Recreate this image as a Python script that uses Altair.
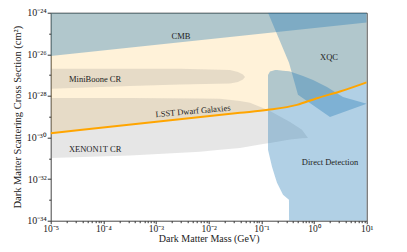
import altair as alt
import pandas as pd

# ---- values (log10 of mass in GeV, log10 of cross section in cm^2)
cmb_logm = [-5.0, 1.0]
cmb_low = [-26.08, -24.47]
cmb_high = [-24.0, -24.0]

lsst_logm = [-5.0, -1.406, -0.874, -0.324, 0.056, 0.493, 1.0]
lsst_sigma = [-29.79, -28.815, -28.67, -28.43, -28.11, -27.79, -27.35]

mini_logm = [-5.0, -3.494, -2.545, -1.596, -1.444, -1.349, -1.311]
mini_low = [-27.66, -27.52, -27.45, -27.40, -27.33, -27.21, -27.09]
mini_high = [-26.70, -26.70, -26.70, -26.75, -26.85, -26.97, -27.09]

xenon_logm = [-5.0, -3.494, -2.165, -1.786, -1.406, -1.216, -0.969, -0.836, -0.456, -0.229, -0.115]
xenon_low = [-30.98, -30.86, -30.69, -30.59, -30.50, -30.42, -30.31, -30.26, -30.10, -30.04, -30.02]
xenon_high = [-28.10, -28.10, -28.12, -28.14, -28.24, -28.33, -28.58, -28.72, -29.25, -29.63, -30.02]

xqc_logm = [-0.874, -0.475, -0.305, 0.303, 1.0]
xqc_low = [-24.0, -26.41, -27.95, -29.01, -28.38]
xqc_high = [-24.0, -24.0, -24.0, -24.0, -24.0]

dd_logm = [-0.874, -0.836, -0.798, -0.741, -0.703, -0.589, -0.476, -0.474, -0.456, -0.209, -0.019, 0.246, 0.550, 1.0]
dd_low = [-30.59, -31.0, -31.41, -31.87, -32.18, -32.75, -32.99, -34.0, -34.0, -34.0, -34.0, -34.0, -34.0, -34.0]
dd_high = [-26.99, -26.83, -26.80, -26.75, -26.76, -26.79, -26.82, -26.82, -26.83, -27.04, -27.23, -27.57, -28.05, -28.38]

label_text = ["CMB", "XQC", "MiniBoone CR", "LSST Dwarf Galaxies", "XENON1T CR", "Direct Detection"]
label_logm = [-2.526, 0.284, -4.157, -2.298, -4.157, 0.303]
label_logs = [-25.12, -26.13, -27.18, -28.72, -30.55, -31.17]
label_angle = [0, 0, 0, 355, 0, 0]

x_major = [1e-5, 1e-4, 1e-3, 1e-2, 1e-1, 1e0, 1e1]
x_major_text = ["10⁻⁵", "10⁻⁴", "10⁻³", "10⁻²", "10⁻¹", "10⁰", "10¹"]
y_major = [1e-34, 1e-32, 1e-30, 1e-28, 1e-26, 1e-24]
y_major_text = ["10⁻³⁴", "10⁻³²", "10⁻³⁰", "10⁻²⁸", "10⁻²⁶", "10⁻²⁴"]
y_minor = [1e-33, 1e-31, 1e-29, 1e-27, 1e-25]

FONT = "Liberation Serif"
BLUE = "#1f77b4"


def region(logm, low, high):
    return pd.DataFrame({
        "m": [10 ** v for v in logm],
        "lo": [10 ** v for v in low],
        "hi": [10 ** v for v in high],
    })


x_minor = []
for e in range(-5, 1):
    for k in range(2, 10):
        x_minor.append(float(f"{k}e{e}"))


def label_expr(vals, texts):
    s = "''"
    for v, t in reversed(list(zip(vals, texts))):
        s = f"datum.value == {repr(v)} ? '{t}' : {s}"
    return s


xscale = alt.Scale(type="log", domain=[1e-5, 10], nice=False)
yscale = alt.Scale(type="log", domain=[1e-34, 1e-24], nice=False)

x_axis = alt.Axis(
    orient="bottom",
    values=x_major,
    labelExpr=label_expr(x_major, x_major_text),
    labelOverlap=False, labelFlush=False,
    tickSize=3, tickColor="#333", domain=False, grid=False,
    labelFont=FONT, labelFontSize=9.5, labelColor="#222", labelPadding=0,
    title="Dark Matter Mass (GeV)", titleFont=FONT, titleFontSize=10,
    titleFontWeight="normal", titleColor="#222",
    titleX=158, titleY=18, titleAlign="center", titleBaseline="middle",
)
y_axis = alt.Axis(
    orient="left",
    values=y_major,
    labelExpr=label_expr(y_major, y_major_text),
    labelOverlap=False, labelFlush=False,
    tickSize=3.5, tickColor="#333", domain=False, grid=False,
    labelFont=FONT, labelFontSize=10, labelColor="#222", labelPadding=1,
    title="Dark Matter Scattering Cross Section (cm²)", titleFont=FONT, titleFontSize=10.5,
    titleFontWeight="normal", titleColor="#222",
    titleX=-33, titleY=104, titleAngle=270, titleAlign="center", titleBaseline="middle",
)
x_minor_axis = alt.Axis(orient="bottom", values=x_minor, labels=False, tickSize=2,
                        tickColor="#333", domain=False, grid=False, title=None)
y_minor_axis = alt.Axis(orient="left", values=y_minor, labels=False, tickSize=2,
                        tickColor="#333", domain=False, grid=False, title=None)


def area_layer(df, color, opacity, axes=False, interp="linear"):
    return alt.Chart(df).mark_area(color=color, opacity=opacity, clip=True,
                                   interpolate=interp).encode(
        x=alt.X("m:Q", scale=xscale, axis=x_axis if axes else None),
        y=alt.Y("lo:Q", scale=yscale, axis=y_axis if axes else None),
        y2="hi:Q",
    )


lsst_df = pd.DataFrame({
    "m": [10 ** v for v in lsst_logm],
    "lo": [10 ** v for v in lsst_sigma],
    "hi": [1e-24] * len(lsst_logm),
})

lsst = area_layer(lsst_df, "orange", 0.15, axes=True, interp="monotone")
mini = area_layer(region(mini_logm, mini_low, mini_high), "gray", 0.2)
xenon = area_layer(region(xenon_logm, xenon_low, xenon_high), "gray", 0.2)
cmb = area_layer(region(cmb_logm, cmb_low, cmb_high), BLUE, 0.35)
xqc = area_layer(region(xqc_logm, xqc_low, xqc_high), BLUE, 0.35)
dd = area_layer(region(dd_logm, dd_low, dd_high), BLUE, 0.35)

line = alt.Chart(lsst_df).mark_line(color="orange", strokeWidth=2, clip=True,
                                    interpolate="monotone").encode(
    x=alt.X("m:Q", scale=xscale, axis=x_minor_axis),
    y=alt.Y("lo:Q", scale=yscale, axis=y_minor_axis),
)

lab_df = pd.DataFrame({
    "t": label_text,
    "m": [10 ** v for v in label_logm],
    "s": [10 ** v for v in label_logs],
    "a": label_angle,
})
labels = alt.Chart(lab_df).mark_text(font=FONT, fontSize=8.5, color="#222", align="center",
                                     baseline="middle").encode(
    x=alt.X("m:Q", scale=xscale, axis=None),
    y=alt.Y("s:Q", scale=yscale, axis=None),
    text="t:N",
    angle=alt.Angle("a:Q", scale=None),
)

chart = alt.layer(lsst, mini, xenon, cmb, xqc, dd, line, labels).resolve_axis(
    x="independent", y="independent"
).properties(
    width=316, height=208,
    autosize=alt.AutoSizeParams(type="none"),
    padding={"left": 42.7, "top": 4.7, "right": 30, "bottom": 23.3},
).configure_view(stroke="#444", strokeWidth=1)

chart.save("out.html", embed_options={"renderer": "svg", "actions": False})
